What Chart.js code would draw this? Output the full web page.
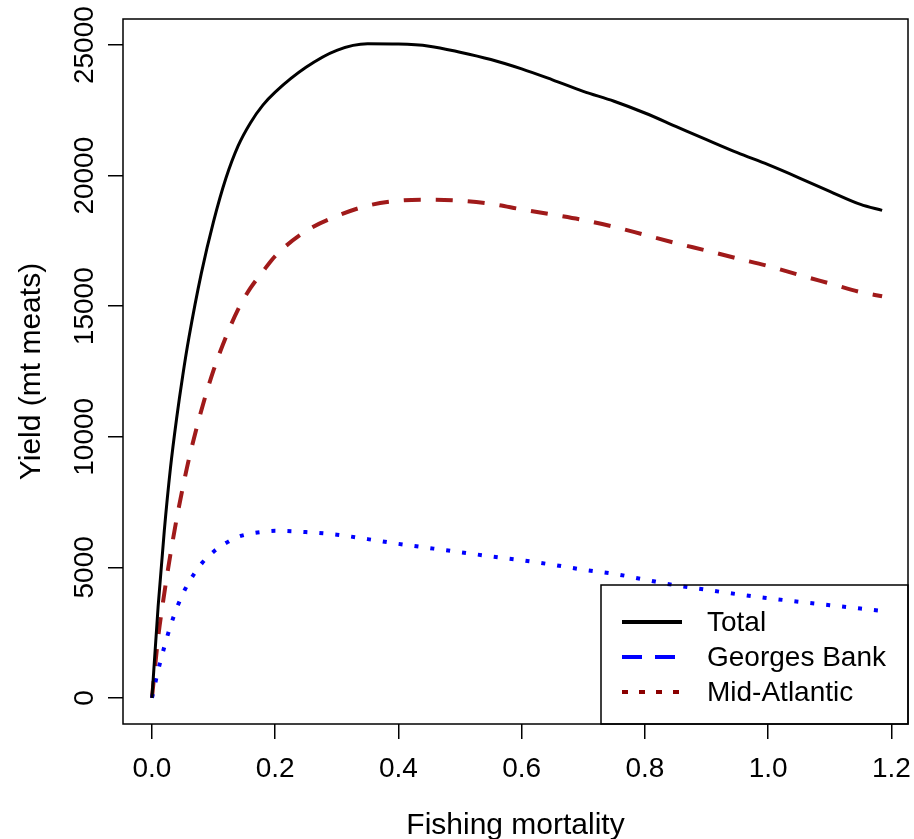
<!DOCTYPE html>
<html>
<head>
<meta charset="utf-8">
<script src="https://cdn.jsdelivr.net/npm/chart.js@4/dist/chart.umd.min.js"></script>
<style>
  html, body { margin: 0; padding: 0; background: #fff; }
  #cadre { width: 914px; height: 839px; }
</style>
</head>
<body>
<div id="cadre"><canvas id="graphique"></canvas></div>
<script>
// Valeurs (mortalité par pêche -> rendement en t de chair)
const mortalite = [0, 0.01, 0.02, 0.03, 0.04, 0.05, 0.06, 0.08, 0.10, 0.12, 0.14, 0.16, 0.18, 0.20,
    0.25, 0.30, 0.35, 0.40, 0.45, 0.50, 0.55, 0.60, 0.65, 0.70, 0.75, 0.80, 0.85, 0.90, 0.95,
    1.00, 1.05, 1.10, 1.15, 1.185];
const total = [0, 3500, 6400, 8800, 10700, 12350, 13800, 16250, 18250, 19900, 21150, 22030, 22700, 23200,
    24150, 24800, 25050, 25040, 24960, 24730, 24450, 24090, 23670, 23230, 22850, 22400, 21890, 21380, 20880,
    20420, 19920, 19400, 18900, 18670];
const georgesBank = [0, 1050, 1950, 2750, 3420, 3980, 4430, 5130, 5600, 5930, 6170, 6290, 6360, 6400,
    6350, 6250, 6080, 5900, 5740, 5580, 5420, 5270, 5100, 4910, 4750, 4530, 4310, 4140, 3970,
    3820, 3680, 3550, 3420, 3330];
const midAtlantique = [0, 2300, 4000, 5500, 6850, 8050, 9150, 11000, 12550, 13820, 14890, 15700, 16330, 16920,
    17880, 18450, 18850, 19040, 19080, 19040, 18920, 18710, 18510, 18300, 18040, 17730, 17420, 17130, 16830,
    16540, 16200, 15870, 15540, 15380];

const ticksX = [0, 0.2, 0.4, 0.6, 0.8, 1.0, 1.2];
const ticksY = [0, 5000, 10000, 15000, 20000, 25000];

const police = '"Liberation Sans", Arial, Helvetica, sans-serif';
Chart.defaults.font.family = police;
Chart.defaults.color = '#000';

// La légende de la figure d'origine ne reprend pas les mêmes tirets que les courbes
const entreesLegende = [
    { texte: 'Total', couleur: '#000000', tirets: [] },
    { texte: 'Georges Bank', couleur: '#0000ff', tirets: [20, 13] },
    { texte: 'Mid-Atlantic', couleur: '#8b0000', tirets: [6, 11] },
];

function points(valeurs) {
    return mortalite.map((f, i) => ({ x: f, y: valeurs[i] }));
}

const pluginCadre = {
    id: 'cadre',
    afterDraw(chart) {
        const { ctx, chartArea: a } = chart;
        const echelleY = chart.scales.y;
        ctx.save();
        ctx.strokeStyle = '#000';
        ctx.lineWidth = 1.5;
        ctx.strokeRect(a.left, a.top, a.right - a.left, a.bottom - a.top);

        // étiquettes de l'axe y, tournées comme dans R
        ctx.fillStyle = '#000';
        ctx.font = '28px ' + police;
        ctx.textAlign = 'center';
        ctx.textBaseline = 'middle';
        echelleY.ticks.forEach(t => {
            const y = echelleY.getPixelForValue(t.value);
            ctx.save();
            ctx.translate(85, y);
            ctx.rotate(-Math.PI / 2);
            ctx.fillText(String(t.value), 0, 0);
            ctx.restore();
        });

        // légende en bas à droite
        const largeur = 307, hauteur = 139;
        const gauche = a.right - largeur, haut = a.bottom - hauteur;
        ctx.lineWidth = 1.5;
        ctx.strokeRect(gauche, haut, largeur, hauteur);
        ctx.font = '28px ' + police;
        ctx.textAlign = 'left';
        entreesLegende.forEach((e, i) => {
            const y = haut + 37 + i * 35;
            ctx.beginPath();
            ctx.strokeStyle = e.couleur;
            ctx.lineWidth = 4;
            ctx.setLineDash(e.tirets);
            ctx.moveTo(gauche + 21, y);
            ctx.lineTo(gauche + 81, y);
            ctx.stroke();
            ctx.setLineDash([]);
            ctx.fillText(e.texte, gauche + 106, y + 1);
        });
        ctx.restore();
    }
};

new Chart(document.getElementById('graphique'), {
    type: 'line',
    data: {
        datasets: [
            {
                label: 'Total',
                data: points(total),
                borderColor: '#000000',
                borderWidth: 3,
            },
            {
                label: 'Georges Bank',
                data: points(georgesBank),
                borderColor: '#0000ff',
                borderWidth: 4,
                borderDash: [4, 12],
            },
            {
                label: 'Mid-Atlantic',
                data: points(midAtlantique),
                borderColor: '#a01a1a',
                borderWidth: 4,
                borderDash: [17, 15],
            },
        ],
    },
    options: {
        responsive: true,
        maintainAspectRatio: false,
        animation: false,
        devicePixelRatio: 1,
        parsing: false,
        elements: {
            point: { radius: 0 },
            line: { cubicInterpolationMode: 'monotone', borderCapStyle: 'butt' },
        },
        layout: { padding: { top: 19, right: 6, left: 0, bottom: 0 } },
        plugins: {
            legend: { display: false },
            tooltip: { enabled: false },
        },
        scales: {
            x: {
                type: 'linear',
                min: -0.047,
                max: 1.227,
                afterBuildTicks: s => { s.ticks = ticksX.map(v => ({ value: v })); },
                afterFit: s => { s.height = 115; s.paddingLeft = 0; s.paddingRight = 0; },
                ticks: {
                    callback: v => v.toFixed(1),
                    font: { size: 28 },
                    color: '#000',
                    padding: 13,
                    maxRotation: 0,
                    autoSkip: false,
                },
                grid: { drawOnChartArea: false, tickLength: 15, color: '#000', lineWidth: 1.5 },
                border: { display: false },
                title: {
                    display: true,
                    text: 'Fishing mortality',
                    font: { size: 30, lineHeight: 1 },
                    color: '#000',
                    padding: { top: 0, bottom: -2 },
                },
            },
            y: {
                type: 'linear',
                min: -1000,
                max: 26000,
                afterBuildTicks: s => { s.ticks = ticksY.map(v => ({ value: v })); },
                afterFit: s => { s.width = 123; s.paddingTop = 0; s.paddingBottom = 0; },
                ticks: { display: false },
                grid: { drawOnChartArea: false, tickLength: 15, color: '#000', lineWidth: 1.5 },
                border: { display: false },
                title: {
                    display: true,
                    text: 'Yield (mt meats)',
                    font: { size: 30, lineHeight: 1 },
                    color: '#000',
                    padding: { top: 17, bottom: 0 },
                },
            },
        },
    },
    plugins: [pluginCadre],
});
</script>
</body>
</html>
